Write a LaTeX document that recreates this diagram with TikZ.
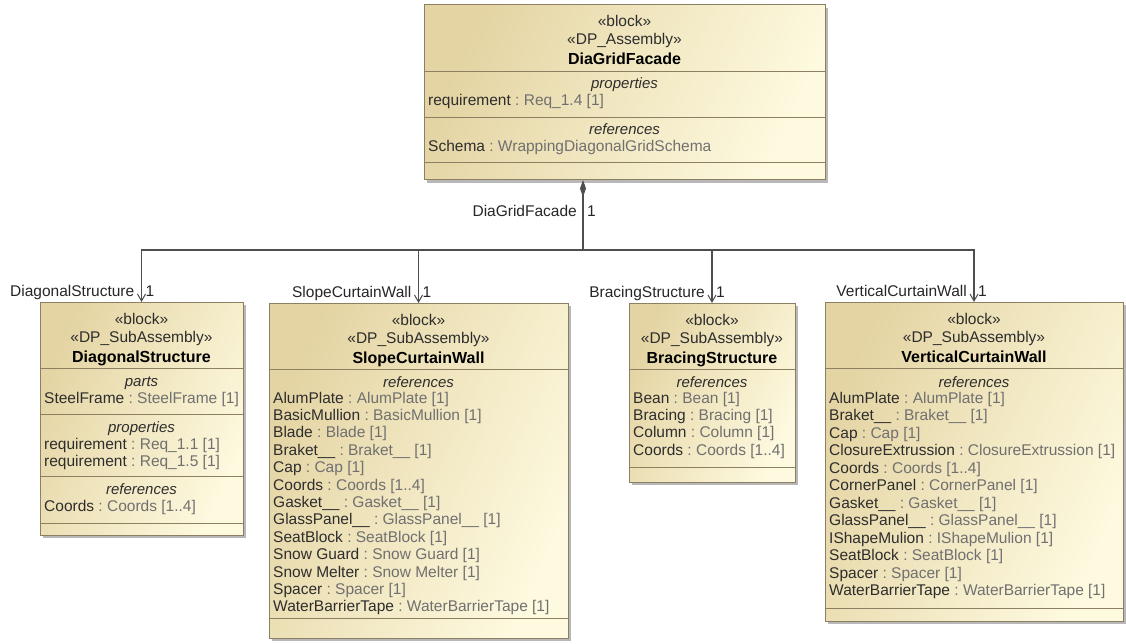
\documentclass[tikz,border=0pt]{standalone}
\usepackage{fontspec}
\setmainfont{Liberation Sans}
\usetikzlibrary{arrows.meta,shadows}

\definecolor{blockdark}{RGB}{228,212,163}
\definecolor{blocklight}{RGB}{254,250,224}
\definecolor{blockline}{RGB}{140,127,98}
\definecolor{namecol}{RGB}{45,45,45}
\definecolor{typecol}{RGB}{112,112,112}
\definecolor{wirecol}{RGB}{78,78,78}

% "name : type" line of a compartment
\newcommand\propline[2]{#1\ {\color{typecol}:\ #2}}

\tikzset{
  blockbox/.style={draw=blockline, line width=1pt, inner sep=0pt, outer sep=0pt,
    anchor=north west, top color=blockdark, bottom color=blocklight, shading angle=65,
    drop shadow={shadow xshift=3pt, shadow yshift=-3pt, fill=black!55, opacity=0.5}},
  divider/.style={draw=blockline, line width=0.8pt},
  stereo/.style={anchor=base, inner sep=0pt, text=namecol, font=\fontsize{15.5}{17.5}\selectfont},
  title/.style={anchor=base, inner sep=0pt, text=black, font=\fontsize{16}{18}\selectfont\bfseries},
  compartment/.style={anchor=base, inner sep=0pt, text=namecol, font=\fontsize{15}{17.5}\selectfont\itshape},
  entry/.style={anchor=base west, inner sep=0pt, text=namecol, font=\fontsize{15.5}{17.5}\selectfont},
  role/.style={inner sep=0pt, text=black!85, font=\fontsize{15.5}{17.5}\selectfont},
  wire/.style={draw=wirecol, line width=1.3pt},
  assoc/.style={wire, -{Straight Barb[length=7pt, width=8pt, line width=1pt]}},
  compose/.style={wire, {Diamond[length=17pt, width=6pt, fill=wirecol]}-},
}

\begin{document}
\begin{tikzpicture}[x=1pt, y=-1pt]
\useasboundingbox[fill=white] (0,0) rectangle (1126,644);

% ---------- DiaGridFacade ----------
\node[blockbox, minimum width=401pt, minimum height=175pt] (dg) at (424,5) {};
\node[stereo] (dg-s1) at (624.5,27) {«block»};
\node[stereo] (dg-s2) at (624.5,45) {«DP\_Assembly»};
\node[title]  (dg-t)  at (624.5,65) {DiaGridFacade};
\draw[divider] (424,71) -- (825,71);
\node[compartment] (dg-c1) at (624.5,89) {properties};
\node[entry] (dg-e1) at (428,106) {\propline{requirement}{Req\_1.4 [1]}};
\draw[divider] (424,117) -- (825,117);
\node[compartment] (dg-c2) at (624.5,135) {references};
\node[entry] (dg-e2) at (428,152) {\propline{Schema}{WrappingDiagonalGridSchema}};
\draw[divider] (424,162) -- (825,162);

% ---------- DiagonalStructure ----------
\node[blockbox, minimum width=203pt, minimum height=233pt] (ds) at (40,302) {};
\node[stereo] (ds-s1) at (141.5,324) {«block»};
\node[stereo] (ds-s2) at (141.5,342) {«DP\_SubAssembly»};
\node[title]  (ds-t)  at (141.5,362) {DiagonalStructure};
\draw[divider] (40,368) -- (243,368);
\node[compartment] (ds-c1) at (141.5,386) {parts};
\node[entry] (ds-e1) at (44,403) {\propline{SteelFrame}{SteelFrame [1]}};
\draw[divider] (40,414) -- (243,414);
\node[compartment] (ds-c2) at (141.5,432) {properties};
\node[entry] (ds-e2) at (44,449) {\propline{requirement}{Req\_1.1 [1]}};
\node[entry] (ds-e3) at (44,466) {\propline{requirement}{Req\_1.5 [1]}};
\draw[divider] (40,476) -- (243,476);
\node[compartment] (ds-c3) at (141.5,494) {references};
\node[entry] (ds-e4) at (44,511) {\propline{Coords}{Coords [1..4]}};
\draw[divider] (40,523) -- (243,523);

% ---------- SlopeCurtainWall ----------
\node[blockbox, minimum width=299pt, minimum height=335pt] (sc) at (269,303) {};
\node[stereo] (sc-s1) at (418.5,325) {«block»};
\node[stereo] (sc-s2) at (418.5,343) {«DP\_SubAssembly»};
\node[title]  (sc-t)  at (418.5,363) {SlopeCurtainWall};
\draw[divider] (269,369) -- (568,369);
\node[compartment] (sc-c1) at (418.5,387) {references};
\foreach \n/\t [count=\i from 0] in {
    AlumPlate/AlumPlate [1], BasicMullion/BasicMullion [1], Blade/Blade [1],
    Braket\_\_/Braket\_\_ [1], Cap/Cap [1], Coords/Coords [1..4],
    Gasket\_\_/Gasket\_\_ [1], GlassPanel\_\_/GlassPanel\_\_ [1],
    SeatBlock/SeatBlock [1], Snow Guard/Snow Guard [1],
    Snow Melter/Snow Melter [1], Spacer/Spacer [1],
    WaterBarrierTape/WaterBarrierTape [1]}
  \node[entry] (sc-e\i) at (273,{403+17.4*\i}) {\propline{\n}{\t}};
\draw[divider] (269,618) -- (568,618);

% ---------- BracingStructure ----------
\node[blockbox, minimum width=166pt, minimum height=179pt] (bs) at (629,303) {};
\node[stereo] (bs-s1) at (712,325) {«block»};
\node[stereo] (bs-s2) at (712,343) {«DP\_SubAssembly»};
\node[title]  (bs-t)  at (712,363) {BracingStructure};
\draw[divider] (629,369) -- (795,369);
\node[compartment] (bs-c1) at (712,387) {references};
\foreach \n/\t [count=\i from 0] in {
    Bean/Bean [1], Bracing/Bracing [1], Column/Column [1], Coords/Coords [1..4]}
  \node[entry] (bs-e\i) at (633,{403+17.4*\i}) {\propline{\n}{\t}};
\draw[divider] (629,467) -- (795,467);

% ---------- VerticalCurtainWall ----------
\node[blockbox, minimum width=298pt, minimum height=319pt] (vc) at (825,302) {};
\node[stereo] (vc-s1) at (974,324) {«block»};
\node[stereo] (vc-s2) at (974,342) {«DP\_SubAssembly»};
\node[title]  (vc-t)  at (974,362) {VerticalCurtainWall};
\draw[divider] (825,368) -- (1123,368);
\node[compartment] (vc-c1) at (974,387) {references};
\foreach \n/\t [count=\i from 0] in {
    AlumPlate/AlumPlate [1], Braket\_\_/Braket\_\_ [1], Cap/Cap [1],
    ClosureExtrussion/ClosureExtrussion [1], Coords/Coords [1..4],
    CornerPanel/CornerPanel [1], Gasket\_\_/Gasket\_\_ [1],
    GlassPanel\_\_/GlassPanel\_\_ [1], IShapeMulion/IShapeMulion [1],
    SeatBlock/SeatBlock [1], Spacer/Spacer [1],
    WaterBarrierTape/WaterBarrierTape [1]}
  \node[entry] (vc-e\i) at (829,{403+17.5*\i}) {\propline{\n}{\t}};
\draw[divider] (825,608) -- (1123,608);

% ---------- composition tree ----------
\coordinate (hub) at (583,250);
\draw[compose] (hub |- dg.south) -- (hub);
\node[role, anchor=base east] (dg-role) at (577,217) {DiaGridFacade};
\node[role, anchor=base west] (dg-mult) at (587,217) {1};

\foreach \b/\r in {ds/DiagonalStructure, sc/SlopeCurtainWall,
                   bs/BracingStructure, vc/VerticalCurtainWall} {
  \draw[assoc] (hub) -| (\b.north);
  \node[role, anchor=base east] (\b-role) at ([xshift=-7pt, yshift=6pt]\b.north) {\r};
  \node[role, anchor=base west] (\b-mult) at ([xshift=4pt, yshift=6pt]\b.north) {1};
}
\end{tikzpicture}
\end{document}
